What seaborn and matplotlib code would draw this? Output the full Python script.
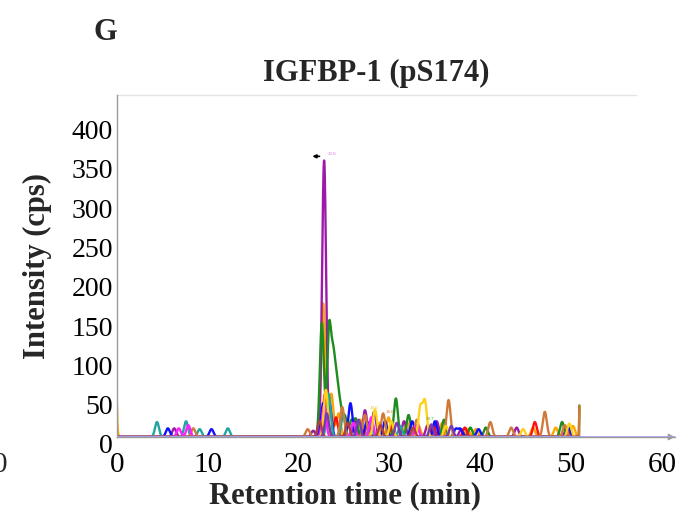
import numpy as np
import pandas as pd
import matplotlib
matplotlib.use("Agg")
import matplotlib.pyplot as plt
import matplotlib.transforms as mtransforms
from matplotlib.ticker import MultipleLocator
import seaborn as sns

# ---------------- data ----------------
series_names = ["orange", "purple", "green", "red", "blue", "teal",
                "brown", "magenta", "gold", "darkred", "violet"]

series_colors = {
    "orange": "#FFA500", "purple": "#9B1BA8", "green": "#1E8C1E",
    "red": "#FF1010", "blue": "#1010FF", "teal": "#20A5A0",
    "brown": "#D07A3A", "magenta": "#FF20FF", "gold": "#FFD21A",
    "darkred": "#B04040", "violet": "#7A3AB0",
}

# peak apex times (min) and heights (cps) per trace
peak_times = {
    "orange":  [22.7, 23.6, 24.4, 26.8, 28.9, 29.9, 31.9, 33.2, 35.8, 38.6, 39.5, 45.8, 48.3, 50.2],
    "purple":  [6.3, 21.6, 22.8, 26.2, 27.3, 28.3, 31.6, 34.2, 35.2, 37.9, 44.0, 49.5],
    "green":   [22.55, 23.35, 23.8, 24.2, 24.6, 25.1, 25.8, 26.3, 30.7, 32.1, 36.0, 38.9, 40.6, 49.0],
    "red":     [22.9, 24.1, 27.6, 30.3, 34.8, 38.3, 46.0],
    "blue":    [5.6, 10.4, 22.7, 23.4, 25.7, 27.5, 29.5, 32.5, 35.0, 37.3, 37.8, 39.8, 49.7],
    "teal":    [4.4, 7.6, 9.1, 12.2, 23.3, 24.9, 27.9, 31.2],
    "brown":   [8.4, 21.0, 24.8, 27.3, 29.3, 33.0, 36.5, 41.1, 43.4, 47.1, 49.3],
    "magenta": [6.8, 7.85, 22.8, 26.0, 28.0, 33.0],
    "gold":    [23.0, 28.4, 30.2, 33.4, 33.9, 36.2, 44.7, 49.8],
    "darkred": [22.3, 25.4, 29.0, 32.6],
    "violet":  [23.1, 26.6, 30.8, 34.6, 36.8],
}
peak_heights = {
    "orange":  [170, 55, 30, 22, 18, 25, 20, 14, 18, 10, 10, 12, 12, 14],
    "purple":  [11, 8, 352, 22, 34, 32, 20, 15, 20, 10, 12, 10],
    "green":   [145, 135, 90, 57, 32, 25, 20, 22, 49, 28, 22, 12, 12, 19],
    "red":     [55, 25, 18, 16, 14, 12, 19],
    "blue":    [11, 10, 43, 43, 43, 20, 20, 20, 20, 10, 10, 10, 12],
    "teal":    [19, 20, 10, 11, 55, 28, 18, 14],
    "brown":   [11, 10, 38, 28, 30, 22, 47, 19, 12, 32, 15],
    "magenta": [11, 15, 40, 18, 25, 15],
    "gold":    [60, 35, 20, 38, 45, 14, 10, 17],
    "darkred": [20, 18, 15, 12],
    "violet":  [30, 22, 18, 16, 14],
}
# trace values at the start (0 min) and at the end of acquisition
start_values = {"orange": 41}
end_values = {"brown": 40, "green": 40, "orange": 38}

run_end = 50.9

x_ticks = [0, 10, 20, 30, 40, 50, 60]
y_ticks = [0, 50, 100, 150, 200, 250, 300, 350, 400]

# ---------------- build long table ----------------
grid = np.linspace(0, run_end - 0.05, 2500)
rows = []
for name in series_names:
    y = np.zeros_like(grid)
    for t, h in zip(peak_times[name], peak_heights[name]):
        y += h * np.exp(-0.5 * ((grid - t) / 0.22) ** 2)
    s0 = start_values.get(name, 0)
    if s0:
        y += s0 * np.exp(-grid / 0.06)
    xs = list(grid) + [run_end]
    ys = list(y) + [end_values.get(name, 0)]
    rows.append(pd.DataFrame({"time": xs, "intensity": ys, "trace": name}))
df = pd.concat(rows, ignore_index=True)

# ---------------- figure ----------------
sns.set_style("white")
plt.rcParams["font.family"] = ["Liberation Serif", "DejaVu Serif"]

fig = plt.figure(figsize=(6.84, 5.18), dpi=100)
ax = fig.add_axes([117 / 684, (518 - 437) / 518, (675 - 117) / 684, (437 - 95) / 518])

sns.lineplot(data=df, x="time", y="intensity", hue="trace", palette=series_colors,
             hue_order=series_names, sort=False, estimator=None, legend=False,
             linewidth=1.7, ax=ax)

# lavender baseline
ax.axhline(0, color="#A8A8E0", linewidth=2.0, zorder=5)

ax.set_xlim(0, 61.43)
ax.set_ylim(0, 435)
ax.set_xticks(x_ticks)
ax.set_yticks(y_ticks)
ax.xaxis.set_minor_locator(MultipleLocator(2))
ax.yaxis.set_minor_locator(MultipleLocator(10))

for sp in ["top", "right"]:
    ax.spines[sp].set_visible(False)
for sp in ["left", "bottom"]:
    ax.spines[sp].set_color("#9a9a9a")
    ax.spines[sp].set_linewidth(1.0)

# light top border
ax.axhline(435, xmin=0, xmax=0.93, color="#e4e4e4", linewidth=1.0, clip_on=False)
# arrow at end of x axis
ax.annotate("", xy=(1.005, 0), xycoords="axes fraction", xytext=(0.985, 0),
            arrowprops=dict(arrowstyle="-|>", color="#9a9a9a", lw=0.8), annotation_clip=False)

ax.tick_params(axis="both", which="major", direction="inout", length=4, width=0.8,
               color="#888888", labelsize=21, labelcolor="black")
ax.tick_params(axis="both", which="minor", direction="inout", length=2.5, width=0.6,
               color="#999999")
ax.tick_params(axis="x", pad=9)
ax.tick_params(axis="y", pad=1, labelsize=20)

off = mtransforms.ScaledTranslation(0, -5 / 72, fig.dpi_scale_trans)
for lbl in ax.get_yticklabels():
    lbl.set_transform(lbl.get_transform() + off)

ax.set_xlabel("Retention time (min)", fontsize=22, fontweight="bold", labelpad=2, x=0.409)
ax.set_ylabel("Intensity (cps)", fontsize=22, fontweight="bold", labelpad=14)
ax.set_title("IGFBP-1 (pS174)", fontsize=22, fontweight="bold", pad=10, x=0.464)

# tiny peak annotations
ax.text(23.2, 358, "22.8", fontsize=3.5, color="#E070E0", ha="left", va="bottom")
ax.annotate("", xy=(21.2, 357), xytext=(22.6, 357),
            arrowprops=dict(arrowstyle="-|>", color="black", lw=1.2, mutation_scale=5))
ax.text(27.8, 36, "29.0", fontsize=3.5, color="#E8C020")
ax.text(29.6, 31, "28.8", fontsize=3.5, color="#D07A3A")
ax.text(34.0, 22, "33.7", fontsize=3.5, color="#3A9A3A")

fig.text(105 / 684, 1 - 32 / 518, "G", fontsize=22, fontweight="bold", ha="center", va="center")
# clipped label from neighbouring panel
fig.text(0.0, 1 - 465 / 518, "0", fontsize=21, ha="center", va="center")

fig.savefig("out.png", dpi=100)
